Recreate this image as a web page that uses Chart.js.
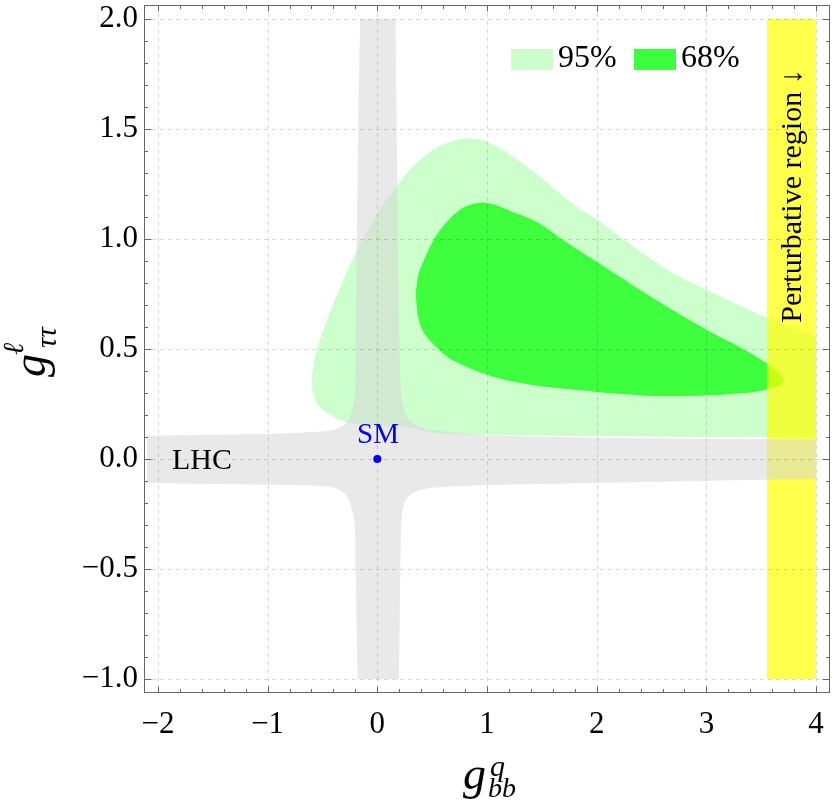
<!DOCTYPE html>
<html>
<head>
<meta charset="utf-8">
<script src="https://cdn.jsdelivr.net/npm/chart.js@4.4.0/dist/chart.umd.min.js"></script>
<style>
html, body { margin: 0; padding: 0; background: #fff; }
#wrap { width: 834px; height: 808px; }
</style>
</head>
<body>
<div id="wrap"><canvas id="chart"></canvas></div>
<script>
const xTicks = [-2, -1, 0, 1, 2, 3, 4];
const yTicks = [-1.0, -0.5, 0.0, 0.5, 1.0, 1.5, 2.0];

// LHC allowed band (cross shape), traced clockwise from the top-left corner
const lhcX = [-0.157, 0.167, 0.176, 0.188, 0.197, 0.205, 0.215, 0.243, 0.275, 0.318, 0.38, 0.47, 0.7, 1.0, 2.0, 3.0, 4.0,
              4.0, 3.0, 2.0, 1.0, 0.7, 0.47, 0.38, 0.318, 0.275, 0.245, 0.228, 0.218, 0.213, 0.21, 0.197,
              -0.18, -0.197, -0.2, -0.205, -0.22, -0.242, -0.265, -0.3, -0.36, -0.44, -0.6, -1.0, -2.1,
              -2.1, -1.5, -1.0, -0.72, -0.5, -0.4, -0.33, -0.29, -0.26, -0.235, -0.215, -0.205, -0.198, -0.196, -0.187, -0.175];
const lhcY = [2.0, 2.0, 1.5, 1.0, 0.6, 0.4, 0.3, 0.224, 0.185, 0.164, 0.145, 0.133, 0.12, 0.107, 0.096, 0.091, 0.088,
              -0.09, -0.099, -0.109, -0.118, -0.124, -0.132, -0.142, -0.155, -0.175, -0.2, -0.24, -0.3, -0.38, -0.5, -1.0,
              -1.0, -0.5, -0.38, -0.3, -0.25, -0.21, -0.18, -0.155, -0.136, -0.126, -0.12, -0.117, -0.109,
              0.106, 0.11, 0.114, 0.119, 0.125, 0.132, 0.145, 0.16, 0.18, 0.21, 0.25, 0.3, 0.4, 0.6, 1.0, 1.5];

// 95% CL region
const cl95X = [-0.596, -0.56, -0.469, -0.348, -0.196, -0.015, 0.197, 0.324, 0.476, 0.627, 0.81, 0.99, 1.234, 1.536,
               1.773, 2.003, 2.227, 2.53, 2.75, 3.0, 3.288, 3.555, 3.78, 3.98, 4.0, 4.0, 4.0, 4.0,
               3.5, 3.0, 2.5, 2.0, 1.5, 1.0, 0.7, 0.5, 0.26, 0.0, -0.257, -0.409, -0.53, -0.59];
const cl95Y = [0.375, 0.482, 0.618, 0.77, 0.936, 1.103, 1.255, 1.33, 1.395, 1.436, 1.457, 1.444, 1.375, 1.262,
               1.164, 1.088, 1.005, 0.898, 0.83, 0.77, 0.701, 0.641, 0.597, 0.56, 0.557, 0.537, 0.12, 0.1,
               0.1, 0.1, 0.101, 0.103, 0.106, 0.109, 0.114, 0.12, 0.145, 0.155, 0.164, 0.194, 0.239, 0.3];

// 68% CL region
const cl68X = [0.349, 0.379, 0.44, 0.531, 0.652, 0.804, 1.0, 1.258, 1.47, 1.688, 2.003, 2.295, 2.6, 3.0, 3.318,
               3.552, 3.64, 3.69, 3.704, 3.68, 3.6, 3.45, 3.2, 3.0, 2.7, 2.445, 2.2, 2.0, 1.75, 1.47, 1.227,
               1.0, 0.804, 0.652, 0.5, 0.409, 0.364];
const cl68Y = [0.755, 0.845, 0.921, 1.012, 1.088, 1.148, 1.164, 1.118, 1.073, 0.997, 0.895, 0.8, 0.705, 0.588, 0.505,
               0.434, 0.4, 0.375, 0.355, 0.337, 0.322, 0.306, 0.294, 0.289, 0.286, 0.288, 0.296, 0.305, 0.317, 0.332, 0.353,
               0.383, 0.421, 0.459, 0.527, 0.588, 0.664];

// perturbative region strip
const pertX = [3.552, 4.0, 4.0, 3.552];
const pertY = [-1.0, -1.0, 2.0, 2.0];

// Standard Model point
const smX = [0];
const smY = [0];

const pts = (xs, ys) => xs.map((x, i) => ({ x: x, y: ys[i] }));

function region(label, xs, ys, color, order, tension) {
    return {
        label: label,
        data: pts(xs, ys),
        showLine: true,
        fill: 'shape',
        backgroundColor: color,
        borderColor: 'rgba(0,0,0,0)',
        borderWidth: 0,
        pointRadius: 0,
        tension: tension,
        order: order
    };
}

function fmt(v, digits) {
    const s = Math.abs(v).toFixed(digits);
    return v < 0 ? '\u2212' + s : s;
}

const SERIF = '"Liberation Serif", "DejaVu Serif", serif';

function drawGrid(chart) {
    const { ctx, chartArea: a, scales: { x, y } } = chart;
    ctx.save();
    ctx.strokeStyle = 'rgba(0,0,0,0.15)';
    ctx.lineWidth = 1;
    ctx.setLineDash([4, 4]);
    ctx.beginPath();
    xTicks.forEach(v => {
        const p = Math.round(x.getPixelForValue(v)) + 0.5;
        ctx.moveTo(p, a.top);
        ctx.lineTo(p, a.bottom);
    });
    yTicks.forEach(v => {
        const p = Math.round(y.getPixelForValue(v)) + 0.5;
        ctx.moveTo(a.left, p);
        ctx.lineTo(a.right, p);
    });
    ctx.stroke();
    ctx.restore();
}

function drawFrame(chart) {
    const { ctx, chartArea: a, scales: { x, y } } = chart;
    const l = Math.round(a.left) + 0.5, r = Math.round(a.right) - 0.5;
    const t = Math.round(a.top) + 0.5, b = Math.round(a.bottom) - 0.5;
    ctx.save();
    ctx.strokeStyle = '#666';
    ctx.lineWidth = 1;
    ctx.strokeRect(l, t, r - l, b - t);
    ctx.beginPath();
    for (let i = -10; i <= 20; i++) {
        const len = i % 5 === 0 ? 6 : 3.5;
        const p = Math.round(x.getPixelForValue(i / 5)) + 0.5;
        ctx.moveTo(p, b); ctx.lineTo(p, b - len);
        ctx.moveTo(p, t); ctx.lineTo(p, t + len);
    }
    for (let i = -10; i <= 20; i++) {
        const len = i % 5 === 0 ? 7 : 3.5;
        const p = Math.round(y.getPixelForValue(i / 10)) + 0.5;
        ctx.moveTo(l, p); ctx.lineTo(l + len, p);
        ctx.moveTo(r, p); ctx.lineTo(r - len, p);
    }
    ctx.stroke();
    ctx.restore();
}

function drawLabels(chart) {
    const ctx = chart.ctx;
    ctx.save();
    ctx.fillStyle = '#000';
    ctx.textBaseline = 'alphabetic';

    // legend
    ctx.fillStyle = '#ccffcc';
    ctx.fillRect(511, 49, 42, 21);
    ctx.fillStyle = 'rgb(62,255,62)';
    ctx.fillRect(634, 49, 42, 21);
    ctx.fillStyle = '#000';
    ctx.font = '32px ' + SERIF;
    ctx.textAlign = 'left';
    ctx.fillText('95%', 558, 67);
    ctx.fillText('68%', 681, 67);

    // annotations
    ctx.font = '30px ' + SERIF;
    ctx.fillText('LHC', 172, 469);
    ctx.fillStyle = '#0000ff';
    ctx.font = '29px ' + SERIF;
    ctx.textAlign = 'center';
    ctx.fillText('SM', 378, 443);

    ctx.fillStyle = '#000';
    ctx.save();
    ctx.translate(801, 196);
    ctx.rotate(-Math.PI / 2);
    ctx.font = '30px ' + SERIF;
    ctx.textAlign = 'center';
    ctx.fillText('Perturbative region \u2193', 0, 0);
    ctx.restore();

    // x axis title
    ctx.textAlign = 'left';
    ctx.font = 'italic 46px ' + SERIF;
    ctx.fillText('g', 463, 789);
    ctx.font = 'italic 30px ' + SERIF;
    ctx.fillText('q', 490, 776);
    ctx.font = 'italic 28px ' + SERIF;
    ctx.fillText('bb', 488, 797);

    // y axis title
    ctx.save();
    ctx.translate(45, 377);
    ctx.rotate(-Math.PI / 2);
    ctx.font = 'italic 46px ' + SERIF;
    ctx.fillText('g', 0, 0);
    ctx.font = 'italic 29px ' + SERIF;
    ctx.fillText('\u2113', 22, -22);
    ctx.fillText('\u03c4\u03c4', 29, 11);
    ctx.restore();

    ctx.restore();
}

const overlay = {
    id: 'overlay',
    beforeDatasetDraw(chart, args) {
        if (chart.data.datasets[args.index].label === 'SM') drawGrid(chart);
    },
    afterDraw(chart) {
        drawFrame(chart);
        drawLabels(chart);
    }
};

const tickFont = { family: SERIF, size: 31 };

new Chart(document.getElementById('chart'), {
    type: 'scatter',
    data: {
        datasets: [
            region('95%', cl95X, cl95Y, '#ccffcc', 5, 0.35),
            region('68%', cl68X, cl68Y, 'rgb(62,255,62)', 4, 0.35),
            region('Perturbative region', pertX, pertY, 'rgba(255,255,0,0.7)', 3, 0),
            region('LHC', lhcX, lhcY, 'rgba(214,214,214,0.53)', 2, 0),
            {
                label: 'SM',
                data: pts(smX, smY),
                showLine: false,
                pointRadius: 4,
                pointBackgroundColor: '#0000ff',
                pointBorderWidth: 0,
                order: 1
            }
        ]
    },
    options: {
        responsive: true,
        maintainAspectRatio: false,
        animation: false,
        events: [],
        layout: { padding: { top: 5, right: 2, left: 0, bottom: 0 } },
        plugins: {
            legend: { display: false },
            tooltip: { enabled: false }
        },
        scales: {
            x: {
                type: 'linear',
                min: -2.127,
                max: 4.127,
                afterFit: s => { s.height = 115; s.paddingLeft = 0; s.paddingRight = 0; },
                afterBuildTicks: s => { s.ticks = xTicks.map(v => ({ value: v })); },
                grid: { display: false, drawTicks: false },
                border: { display: false },
                ticks: {
                    padding: 13,
                    color: '#000',
                    font: tickFont,
                    autoSkip: false,
                    maxRotation: 0,
                    callback: v => fmt(v, 0)
                }
            },
            y: {
                type: 'linear',
                min: -1.064,
                max: 2.064,
                afterFit: s => { s.width = 144; s.paddingTop = 0; s.paddingBottom = 0; },
                afterBuildTicks: s => { s.ticks = yTicks.map(v => ({ value: v })); },
                grid: { display: false, drawTicks: false },
                border: { display: false },
                ticks: {
                    padding: 6,
                    color: '#000',
                    font: tickFont,
                    autoSkip: false,
                    callback: v => fmt(v, 1)
                }
            }
        }
    },
    plugins: [overlay]
});
</script>
</body>
</html>
